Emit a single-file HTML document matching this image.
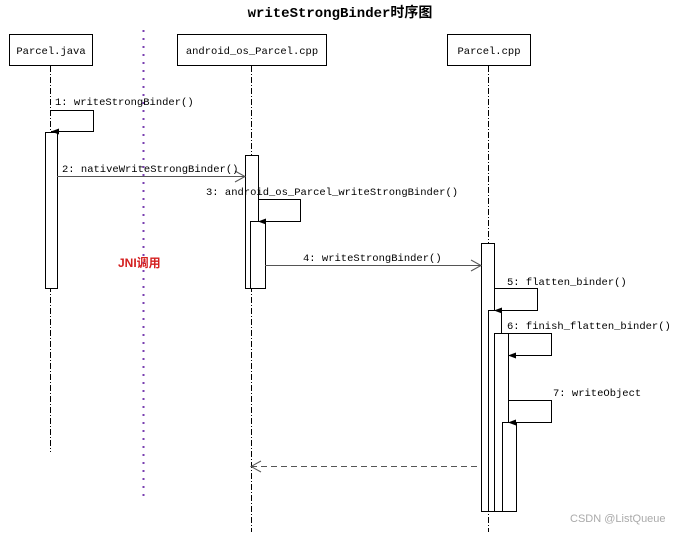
<!DOCTYPE html>
<html><head><style>body{margin:0;background:#fff}</style></head><body>
<svg width="679" height="532" xmlns="http://www.w3.org/2000/svg" font-family="Liberation Mono, monospace" font-size="10.5">
<defs>
<marker id="f" markerWidth="8" markerHeight="6" refX="8" refY="3" orient="auto" markerUnits="userSpaceOnUse"><path d="M0,0 L8,3 L0,6z" fill="#000"/></marker>
</defs>
<text x="340" y="17" text-anchor="middle" font-weight="bold" font-size="14" font-family="Liberation Mono, Noto Sans CJK SC, monospace">writeStrongBinder时序图</text>
<g fill="#fff" stroke="#000" stroke-width="1">
<rect x="9.5" y="34.5" width="83" height="31"/>
<rect x="177.5" y="34.5" width="149" height="31"/>
<rect x="447.5" y="34.5" width="83" height="31"/>
</g>
<text x="51" y="54" text-anchor="middle">Parcel.java</text>
<text x="252" y="54" text-anchor="middle">android_os_Parcel.cpp</text>
<text x="489" y="54" text-anchor="middle">Parcel.cpp</text>
<g stroke="#000" stroke-dasharray="6,2,1,2">
<line x1="50.5" y1="66" x2="50.5" y2="452"/>
<line x1="251.5" y1="66" x2="251.5" y2="532"/>
<line x1="488.5" y1="66" x2="488.5" y2="532"/>
</g>
<line x1="143.5" y1="30" x2="143.5" y2="498" stroke="#7a3fb0" stroke-width="2" stroke-dasharray="2,6"/>
<g fill="#fff" stroke="#000">
<rect x="45.5" y="132.5" width="12" height="156"/>
<rect x="245.5" y="155.5" width="13" height="133"/>
<rect x="250.5" y="221.5" width="15" height="67"/>
<rect x="481.5" y="243.5" width="13" height="268"/>
<rect x="488.5" y="310.5" width="13" height="201"/>
<rect x="494.5" y="333.5" width="14" height="178"/>
<rect x="502.5" y="422.5" width="14" height="89"/>
</g>
<g fill="none" stroke="#000">
<polyline points="50.5,110.5 93.5,110.5 93.5,131.5 51,131.5" marker-end="url(#f)"/>
<polyline points="258.5,199.5 300.5,199.5 300.5,221.5 258,221.5" marker-end="url(#f)"/>
<polyline points="494.5,288.5 537.5,288.5 537.5,310.5 494,310.5" marker-end="url(#f)"/>
<polyline points="508.5,333.5 551.5,333.5 551.5,355.5 508,355.5" marker-end="url(#f)"/>
<polyline points="508.5,400.5 551.5,400.5 551.5,422.5 508,422.5" marker-end="url(#f)"/>
</g>
<g stroke="#555" fill="none">
<line x1="57" y1="176.5" x2="245" y2="176.5"/>
<polyline points="235,171 245,176.5 235,182"/>
<line x1="265" y1="265.5" x2="481" y2="265.5"/>
<polyline points="471,260 481,265.5 471,271"/>
<line x1="251" y1="466.5" x2="481" y2="466.5" stroke-dasharray="6,4"/>
<polyline points="261,461 251,466.5 261,472"/>
</g>
<text x="55" y="105">1: writeStrongBinder()</text>
<text x="62" y="172">2: nativeWriteStrongBinder()</text>
<text x="206" y="195">3: android_os_Parcel_writeStrongBinder()</text>
<text x="303" y="261">4: writeStrongBinder()</text>
<text x="507" y="285">5: flatten_binder()</text>
<text x="507" y="329">6: finish_flatten_binder()</text>
<text x="553" y="396">7: writeObject</text>
<text x="118" y="267" fill="#d42020" font-weight="bold" font-size="12" font-family="Liberation Sans, Noto Sans CJK SC, sans-serif">JNI调用</text>
<text x="570" y="522" fill="#aaa" font-size="11" font-family="Liberation Sans, sans-serif">CSDN @ListQueue</text>
</svg>
</body></html>
